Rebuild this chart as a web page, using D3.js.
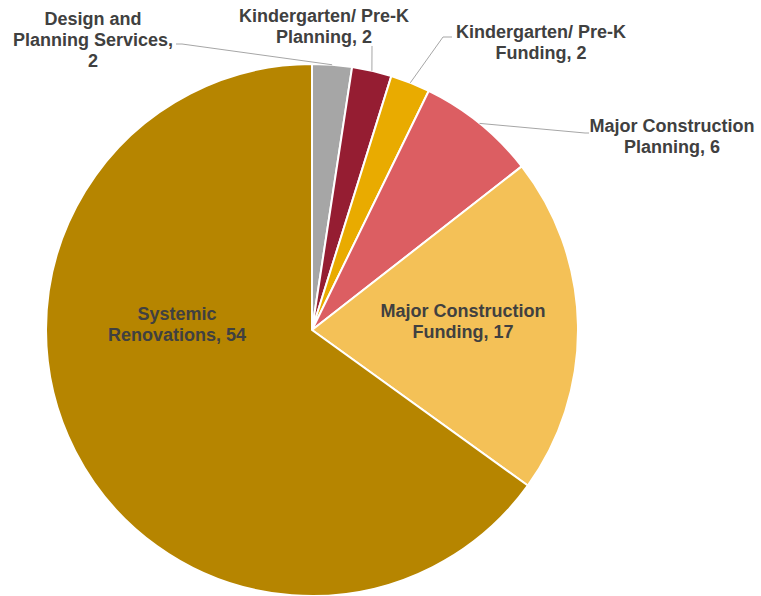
<!DOCTYPE html>
<html>
<head>
<meta charset="utf-8">
<script src="https://cdn.jsdelivr.net/npm/d3@7"></script>
<style>
  body { margin: 0; background: #fff; }
  svg { display: block; }
  .lbl { font-family: "Liberation Sans", Arial, sans-serif; font-weight: bold; font-size: 18px; fill: #404040; }
</style>
</head>
<body>
<div id="chart"></div>
<script>
// chart data
const categories = [
    "Design and Planning Services",
    "Kindergarten/ Pre-K Planning",
    "Kindergarten/ Pre-K Funding",
    "Major Construction Planning",
    "Major Construction Funding",
    "Systemic Renovations"
];
const values = [2, 2, 2, 6, 17, 54];
const colors = ["#a6a6a6", "#951d32", "#e9ab00", "#dc5e62", "#f4c157", "#b68500"];

// how each label is broken into lines
const labelLines = [
    ["Design and", "Planning Services,", "2"],
    ["Kindergarten/ Pre-K", "Planning, 2"],
    ["Kindergarten/ Pre-K", "Funding, 2"],
    ["Major Construction", "Planning, 6"],
    ["Major Construction", "Funding, 17"],
    ["Systemic", "Renovations, 54"]
];

// label placement (center x, first baseline) and leader line points
const labelPos = [[93, 25], [324, 22], [541, 38], [672, 132], [463, 317], [177, 320]];
const leaders = [
    [[182, 44], [176, 44]],
    [[372, 46]],
    [[443, 37], [452, 37]],
    [[585, 133], [589, 133]],
    null,
    null
];

const width = 761, height = 596;
const cx = 312, cy = 330, radius = 266;
const lineH = 21;

const svg = d3.select("#chart").append("svg")
    .attr("width", width)
    .attr("height", height);

const g = svg.append("g").attr("transform", `translate(${cx},${cy})`);

const data = categories.map((c, i) => ({ name: c, value: values[i], i: i }));

const pie = d3.pie().value(d => d.value).sort(null);
const arcs = pie(data);

const arc = d3.arc().innerRadius(0).outerRadius(radius);
const edge = d3.arc().innerRadius(radius).outerRadius(radius);

g.selectAll("path.slice")
    .data(arcs)
    .enter().append("path")
    .attr("class", "slice")
    .attr("d", arc)
    .attr("fill", d => colors[d.data.i])
    .attr("stroke", "#fff")
    .attr("stroke-width", 2)
    .attr("stroke-linejoin", "round");

// leader lines from the slice edge to the label
const line = d3.line();
arcs.forEach(d => {
    const pts = leaders[d.data.i];
    if (!pts) return;
    const [ex, ey] = edge.centroid(d);
    svg.append("path")
        .attr("d", line([[cx + ex, cy + ey]].concat(pts)))
        .attr("fill", "none")
        .attr("stroke", "#a6a6a6")
        .attr("stroke-width", 1);
});

// labels
data.forEach(d => {
    const [x, y] = labelPos[d.i];
    const t = svg.append("text")
        .attr("class", "lbl")
        .attr("text-anchor", "middle");
    labelLines[d.i].forEach((s, k) => {
        t.append("tspan")
            .attr("x", x)
            .attr("y", y + k * lineH)
            .text(s);
    });
});
</script>
</body>
</html>
